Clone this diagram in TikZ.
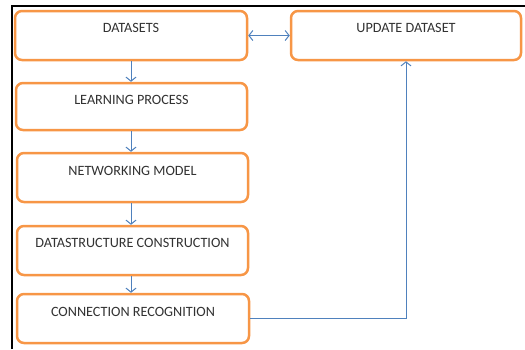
\documentclass[tikz,border=0pt]{standalone}
\usepackage{fontspec}
\setmainfont{Carlito}
\usetikzlibrary{arrows.meta}
\definecolor{boxorange}{RGB}{247,150,70}
\definecolor{linkblue}{RGB}{79,129,189}
\definecolor{txtgray}{RGB}{50,50,50}
\begin{document}
\begin{tikzpicture}[x=1pt,y=-1pt,
  stepbox/.style={draw=boxorange,line width=2.5pt,rounded corners=7pt,fill=white,inner sep=0pt},
  boxtext/.style={text=txtgray,font=\fontsize{14.2}{17}\selectfont,inner sep=0pt,anchor=center},
  link/.style={draw=linkblue,line width=1pt,-{Straight Barb[length=4pt,width=10pt]}},
  dlink/.style={draw=linkblue,line width=1pt,{Straight Barb[length=4pt,width=10pt]}-{Straight Barb[length=4pt,width=10pt]}},
  frame/.style={draw=black,line width=2pt}
]
\useasboundingbox (0,0) rectangle (525,349);
\coordinate (f1) at (12,349);
\coordinate (f2) at (12,6);
\coordinate (f3) at (525,6);
\draw[frame] (f1) -- (f2) -- (f3);

\node[stepbox,minimum width=232pt,minimum height=49pt] (ds) at (131,35.5) {};
\node[stepbox,minimum width=230pt,minimum height=49pt] (up) at (406,35.5) {};
\node[stepbox,minimum width=231pt,minimum height=47pt] (lp) at (131.5,106.5) {};
\node[stepbox,minimum width=231pt,minimum height=49pt] (nm) at (132.5,177.5) {};
\node[stepbox,minimum width=231pt,minimum height=49pt] (dc) at (132.5,250.5) {};
\node[stepbox,minimum width=232pt,minimum height=49pt] (cr) at (133,318.5) {};

\node[boxtext] (dst) at (131,28) {DATASETS};
\node[boxtext] (upt) at (406,28) {UPDATE DATASET};
\node[boxtext] (lpt) at (131.5,99.5) {LEARNING PROCESS};
\node[boxtext] (nmt) at (132.5,170.5) {NETWORKING MODEL};
\node[boxtext] (dct) at (132.5,243) {DATASTRUCTURE CONSTRUCTION};
\node[boxtext] (crt) at (133,311.5) {CONNECTION RECOGNITION};

\draw[link] (ds.south -| 131,0) -- (lp.north -| 131,0);
\draw[link] (lp.south -| 131,0) -- (nm.north -| 131,0);
\draw[link] (nm.south -| 131,0) -- (dc.north -| 131,0);
\draw[link] (dc.south -| 131,0) -- (cr.north -| 131,0);
\draw[dlink] (ds.east) -- (up.west);
\draw[link] (cr.east) -| (up.south);
\end{tikzpicture}
\end{document}
